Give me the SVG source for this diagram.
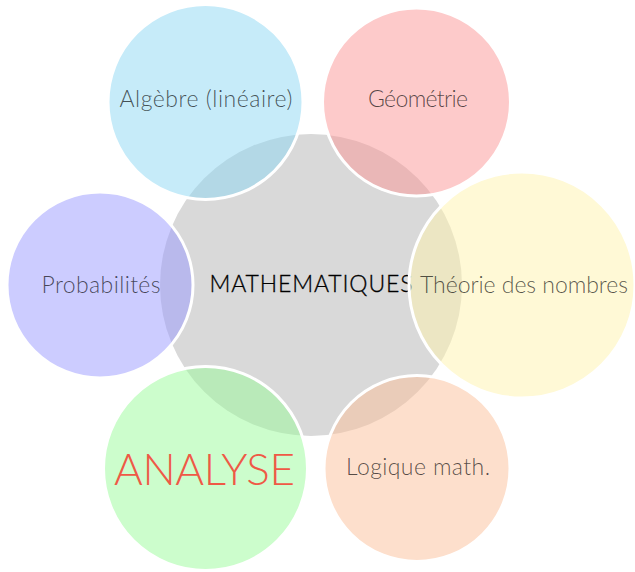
<svg xmlns="http://www.w3.org/2000/svg" width="635" height="572" viewBox="0 0 635 572">
<style>
  .sat { stroke: #ffffff; stroke-width: 3; fill-opacity: 0.5; }
  .lbl { font-family: "Lato", "Liberation Sans", sans-serif; font-weight: 300; font-size: 23px; text-anchor: middle; fill: #000000; fill-opacity: 0.66; }
  .center-lbl { font-family: "Lato", "Liberation Sans", sans-serif; font-weight: 300; font-size: 23px; text-anchor: middle; fill: #000000; }
  .big { font-family: "Lato", "Liberation Sans", sans-serif; font-weight: 300; font-size: 44px; text-anchor: middle; fill: #ef5946; }
</style>
<rect width="635" height="572" fill="#ffffff"/>
<g id="connectors"></g>
<g id="node-center">
  <circle cx="311" cy="285" r="151" fill="#d9d9d9"/>
  <text class="center-lbl" x="311" y="292" textLength="203" lengthAdjust="spacing" stroke="#000000" stroke-width="0.3">MATHEMATIQUES</text>
</g>
<g id="node-algebre">
  <circle class="sat" cx="205.5" cy="102" r="97.5" fill="#8dd7f3"/>
  <text class="lbl" x="206" y="107" textLength="173" lengthAdjust="spacing">Algèbre (linéaire)</text>
</g>
<g id="node-geometrie">
  <circle class="sat" cx="416.5" cy="102" r="94" fill="#fb9595"/>
  <text class="lbl" x="418" y="107" textLength="100" lengthAdjust="spacing">Géométrie</text>
</g>
<g id="node-theorie">
  <circle class="sat" cx="522" cy="285" r="113" fill="#fff3ad"/>
  <text class="lbl" x="524" y="292.5" textLength="208" lengthAdjust="spacing">Théorie des nombres</text>
</g>
<g id="node-logique">
  <circle class="sat" cx="417" cy="468.5" r="93" fill="#fbbf99"/>
  <text class="lbl" x="418" y="475" textLength="144" lengthAdjust="spacing">Logique math.</text>
</g>
<g id="node-analyse">
  <circle class="sat" cx="205.5" cy="468.5" r="102" fill="#99fb99"/>
  <text class="big" x="204.5" y="485" textLength="181" lengthAdjust="spacing">ANALYSE</text>
</g>
<g id="node-probabilites">
  <circle class="sat" cx="100" cy="285" r="93" fill="#9999ff"/>
  <text class="lbl" x="101" y="293" textLength="119" lengthAdjust="spacing">Probabilités</text>
</g>
</svg>
